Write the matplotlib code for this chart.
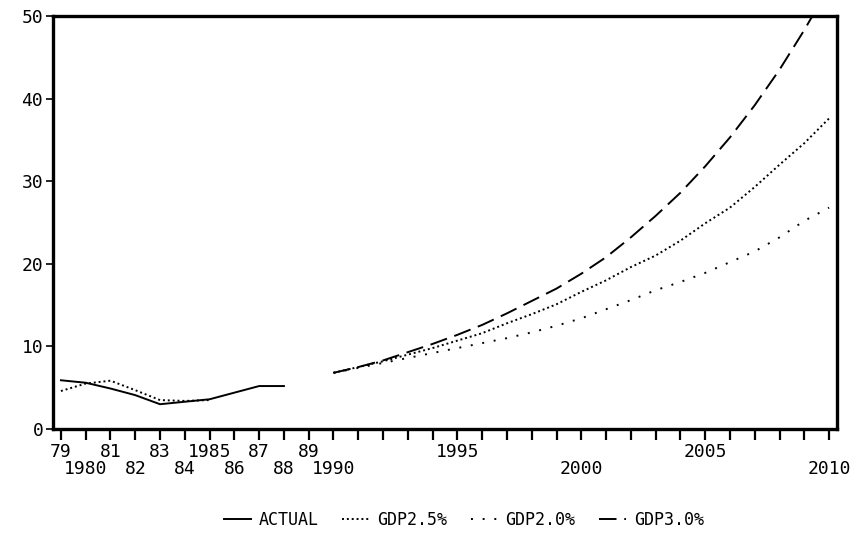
import numpy as np
import matplotlib
matplotlib.use("Agg")
import matplotlib.pyplot as plt

# historical period 1979-1988
hist_years = [1979, 1980, 1981, 1982, 1983, 1984, 1985, 1986, 1987, 1988]
actual = [5.9, 5.6, 4.9, 4.1, 3.0, 3.3, 3.6, 4.4, 5.2, 5.2]
fitted_25 = [4.6, 5.5, 5.85, 4.7, 3.5, 3.4, 3.5]

# forecast period 1990-2010
fc_years = list(range(1990, 2011))
gdp25 = [6.8, 7.5, 8.2, 9.0, 9.8, 10.7, 11.6, 12.8, 13.9, 15.1, 16.6,
         18.0, 19.6, 21.0, 22.8, 24.9, 26.8, 29.3, 32.0, 34.6, 37.6]
gdp20 = [6.8, 7.4, 8.0, 8.6, 9.2, 9.8, 10.4, 11.0, 11.7, 12.5, 13.4,
         14.5, 15.6, 16.8, 17.8, 18.9, 20.2, 21.5, 23.2, 25.2, 26.8]
gdp30 = [6.8, 7.5, 8.3, 9.3, 10.3, 11.4, 12.6, 14.0, 15.5, 17.0, 18.8,
         20.8, 23.2, 25.8, 28.6, 31.8, 35.3, 39.2, 43.5, 48.3, 53.5]

tick_years = list(range(1979, 2011))
row1_years = [1979, 1981, 1983, 1985, 1987, 1989, 1995, 2005]
row1_labels = ["79", "81", "83", "1985", "87", "89", "1995", "2005"]
row2_years = [1980, 1982, 1984, 1986, 1988, 1990, 2000, 2010]
row2_labels = ["1980", "82", "84", "86", "88", "1990", "2000", "2010"]

plt.rcParams['font.family'] = ['DejaVu Sans Mono']

fig = plt.figure(figsize=(8.59, 5.53), dpi=100)
ax = fig.add_axes([53 / 859, 1 - 429 / 553, (837 - 53) / 859, (429 - 16) / 553])

lw = 1.4
ax.plot(hist_years, actual, color="black", lw=lw, label="ACTUAL")
ax.plot(hist_years[:len(fitted_25)], fitted_25, color="black", lw=lw,
        linestyle=(0, (1, 1.5)))
ax.plot(fc_years, gdp25, color="black", lw=lw, linestyle=(0, (1, 1.5)), label="GDP2.5%")
ax.plot(fc_years, gdp20, color="black", lw=lw, linestyle=(0, (1, 5)), label="GDP2.0%")
ax.plot(fc_years, gdp30, color="black", lw=lw, linestyle=(0, (9, 4)), label="GDP3.0%")

ax.set_xlim(1978.68, 2010.32)
ax.set_ylim(0, 50)

# every year gets a tick, odd-row labels on the main axis
ax.set_xticks(tick_years)
ax.set_xticklabels([row1_labels[row1_years.index(y)] if y in row1_years else ""
                    for y in tick_years], fontsize=13)
ax.set_yticks([0, 10, 20, 30, 40, 50])
ax.set_yticklabels(["0", "10", "20", "30", "40", "50"], fontsize=13)

ax.tick_params(axis="x", direction="out", length=8, width=1.6, pad=2)
ax.tick_params(axis="y", direction="out", length=5, width=1.2, pad=2)
for s in ax.spines.values():
    s.set_linewidth(2.4)

# second row of year labels
sec = ax.secondary_xaxis("bottom")
sec.set_xticks(row2_years)
sec.set_xticklabels(row2_labels, fontsize=13)
sec.tick_params(axis="x", length=0, pad=22)
sec.spines["bottom"].set_visible(False)

fig.legend(loc="center", bbox_to_anchor=(0.54, 0.06), ncol=4, frameon=False,
           fontsize=12, handlelength=1.6, handletextpad=0.5, columnspacing=1.4)

fig.savefig("out.png", dpi=100)
